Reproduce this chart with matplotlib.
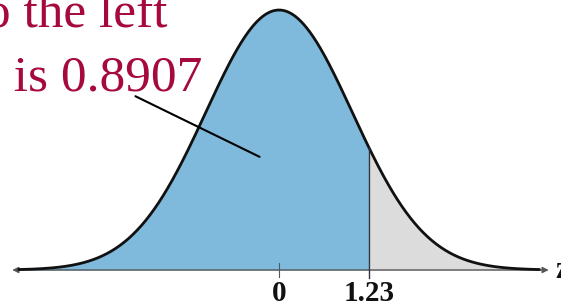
import numpy as np
import matplotlib.pyplot as plt
from matplotlib.patches import FancyArrowPatch

# values
z_cut = 1.23
area_left = 0.8907
tick_vals = [0, 1.23]
tick_labels = ["0", "1.23"]
line1 = "Area to the left"
line2 = "of 1.23 is " + f"{area_left:.4f}"

z = np.linspace(-3.55, 3.55, 600)
pdf = np.exp(-z**2 / 2) / np.sqrt(2 * np.pi)

fig = plt.figure(figsize=(5.61, 3.05), dpi=100)
ax = fig.add_axes([0, 0, 1, 1])
ax.set_xlim(-3.81, 3.85)
ax.set_ylim(-0.0537, 0.4143)
ax.axis("off")

blue = "#7fbadc"
grey = "#dcdcdc"
red = "#a6093d"

# shaded areas
ax.fill_between(z, 0, pdf, where=z <= z_cut, color=blue, lw=0)
ax.fill_between(z, 0, pdf, where=z >= z_cut, color=grey, lw=0)

# axis with arrows at both ends
arr = FancyArrowPatch((-3.68, 0), (3.72, 0), arrowstyle="<|-|>", mutation_scale=9,
                      color="#555555", lw=1.0)
ax.add_patch(arr)

# the curve
ax.plot(z, pdf, color="#111111", lw=2)

# vertical line at the cut
y_cut = np.exp(-z_cut**2 / 2) / np.sqrt(2 * np.pi)
ax.plot([z_cut, z_cut], [-0.013, y_cut], color="#333344", lw=1)
ax.plot([0, 0], [-0.011, 0.011], color="#555566", lw=0.8)

for v, s in zip(tick_vals, tick_labels):
    ax.text(v, -0.0472, s, ha="center", va="baseline", fontsize=21, fontweight="bold",
            family="Liberation Serif", color="#111111")
ax.text(3.78, 0, "z", ha="left", va="center", fontsize=22, fontweight="bold",
        family="Liberation Serif", color="#111111")

# label and leader line
ax.text(0.298, 0.91, line1, transform=ax.transAxes, ha="right", va="baseline",
        fontsize=37, family="Liberation Serif", color=red)
ax.text(0.361, 0.70, line2, transform=ax.transAxes, ha="right", va="baseline",
        fontsize=37, family="Liberation Serif", color=red)
ax.annotate("", xy=(-0.232, 0.1718), xytext=(-1.995, 0.2685),
            arrowprops=dict(arrowstyle="-", color="black", lw=1.5))

fig.savefig("out.png", dpi=100)
